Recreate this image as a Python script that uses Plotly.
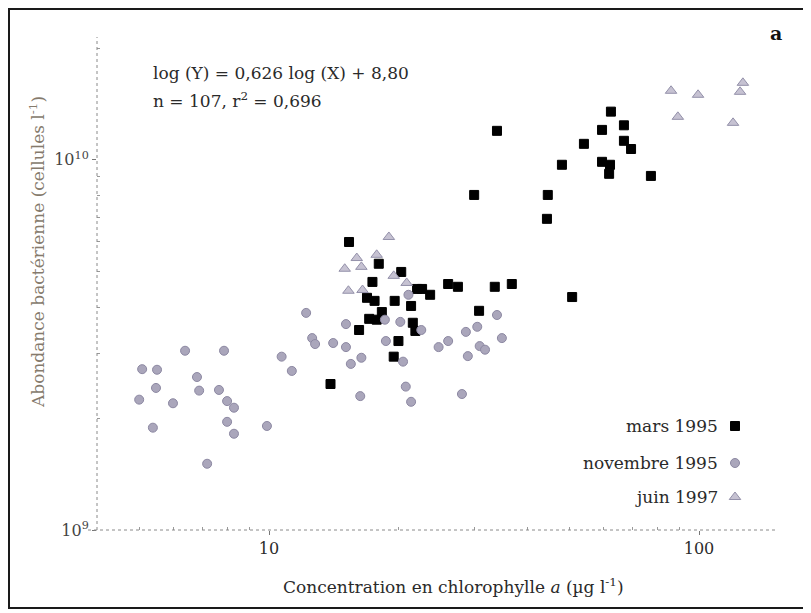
import plotly.graph_objects as go

# ---- data (chlorophyll a in µg/l, bacterial abundance in 10^9 cells/l) ----
mars_chl = [15.35, 18.0, 20.3, 17.4, 22.1, 22.7, 23.7, 26.1, 27.5, 33.5, 36.7,
            16.9, 17.6, 19.6, 21.4, 18.3, 17.1, 17.8, 21.6, 21.9, 16.2, 30.8,
            20.0, 19.5, 13.9, 50.7, 33.9, 62.4, 59.5, 66.9, 54.0, 66.9, 69.5,
            48.0, 59.5, 62.1, 61.8, 77.3, 30.0, 44.5, 44.3]
mars_bact = [6.0, 5.24, 4.98, 4.68, 4.48, 4.48, 4.32, 4.62, 4.54, 4.54, 4.62,
             4.24, 4.16, 4.16, 4.03, 3.88, 3.72, 3.70, 3.63, 3.45, 3.47, 3.91,
             3.24, 2.94, 2.48, 4.26, 11.98, 13.5, 12.05, 12.4, 11.05, 11.26, 10.7,
             9.70, 9.88, 9.70, 9.17, 9.05, 8.04, 8.04, 6.93]

nov_chl = [12.2, 15.1, 12.6, 12.8, 14.1, 15.1, 18.7, 20.2, 18.6, 22.6, 16.4,
           15.5, 20.5, 16.3, 20.8, 21.4, 28.1, 29.0, 24.8, 26.1, 28.7, 30.5,
           30.9, 31.8, 33.9, 34.8, 10.7, 11.3, 6.38, 7.86, 5.07, 5.49, 6.80,
           5.46, 6.88, 7.65, 4.99, 5.98, 7.99, 8.29, 5.37, 7.99, 8.29, 9.89,
           7.18, 21.1]
nov_bact = [3.86, 3.60, 3.30, 3.18, 3.20, 3.12, 3.24, 3.65, 3.70, 3.47, 2.92,
            2.81, 2.85, 2.30, 2.44, 2.22, 2.33, 2.95, 3.12, 3.24, 3.43, 3.54,
            3.14, 3.07, 3.81, 3.30, 2.94, 2.69, 3.05, 3.05, 2.72, 2.71, 2.59,
            2.42, 2.38, 2.39, 2.25, 2.20, 2.23, 2.14, 1.89, 1.96, 1.82, 1.91,
            1.51, 4.32]

juin_chl = [19.0, 16.0, 17.8, 15.0, 16.4, 19.5, 15.3, 16.5, 20.9,
            86.1, 99.5, 126.5, 124.6, 89.3, 120.0]
juin_bact = [6.19, 5.43, 5.54, 5.08, 5.14, 4.86, 4.43, 4.45, 4.65,
             15.37, 14.99, 16.15, 15.27, 13.07, 12.59]

UNIT = 1e9

series_names = ["mars 1995", "novembre 1995", "juin 1997"]
x_tickvals = [10, 100]
x_ticktext = ["10", "100"]
y_tickvals = [1e9, 1e10]
y_ticktext = ["10<sup>9</sup>", "10<sup>10</sup>"]

eq_line1 = "log (Y) = 0,626 log (X) + 8,80"
eq_line2 = "n = 107, r<sup>2</sup> = 0,696"

# ---- layout geometry (pixels, in page coordinates of the reference) ----
PAGE_W, PAGE_H = 811, 613
OFF = 8  # default page body margin
W, H = PAGE_W - OFF, PAGE_H - OFF
L, R, T, B = 97, 777, 37, 530
SERIF = "DejaVu Serif, Liberation Serif, serif"
FS = 17


def px(xp):
    return (xp - L) / (R - L)


def py(yp):
    return (B - yp) / (B - T)


styles = [
    dict(symbol="square", size=9, color="#000000", line=dict(color="#000000", width=1)),
    dict(symbol="circle", size=9, color="#aaa6bb", line=dict(color="#8c88a2", width=1)),
    dict(symbol="triangle-up", size=10, color="#c6c2d2", line=dict(color="#9491aa", width=1)),
]

fig = go.Figure()
data_sets = [(mars_chl, mars_bact), (nov_chl, nov_bact), (juin_chl, juin_bact)]
for (xs, ys), name, st in zip(data_sets, series_names, styles):
    fig.add_trace(go.Scatter(
        x=xs, y=[v * UNIT for v in ys], mode="markers", name=name,
        marker=st, showlegend=False, xaxis="x", yaxis="y"))

# legend drawn on an overlay axis (markers right of text, as in reference)
leg_y_px = [426, 463, 497]
leg_x_px = 735
for name, st, yp in zip(series_names, styles, leg_y_px):
    fig.add_trace(go.Scatter(
        x=[px(leg_x_px)], y=[py(yp)], mode="markers", marker=st,
        showlegend=False, hoverinfo="skip", xaxis="x2", yaxis="y2"))

TXT = "#2a2a2a"
annotations = []
for name, yp in zip(series_names, leg_y_px):
    annotations.append(dict(
        x=px(720), y=py(yp), xref="paper", yref="paper", text=name,
        showarrow=False, xanchor="right", yanchor="middle",
        font=dict(family=SERIF, size=FS, color=TXT)))

annotations += [
    dict(x=px(151), y=py(73), xref="paper", yref="paper", text=eq_line1,
         showarrow=False, xanchor="left", yanchor="middle",
         font=dict(family=SERIF, size=FS, color=TXT)),
    dict(x=px(151), y=py(100), xref="paper", yref="paper", text=eq_line2,
         showarrow=False, xanchor="left", yanchor="middle",
         font=dict(family=SERIF, size=FS, color=TXT)),
    dict(x=px(776), y=py(33), xref="paper", yref="paper", text="<b>a</b>",
         showarrow=False, xanchor="center", yanchor="middle",
         font=dict(family=SERIF, size=19, color="#111111")),
    dict(x=px(453), y=py(586), xref="paper", yref="paper",
         text="Concentration en chlorophylle <i>a</i> (µg l<sup>-1</sup>)",
         showarrow=False, xanchor="center", yanchor="middle",
         font=dict(family=SERIF, size=FS, color=TXT)),
    dict(x=px(37), y=py(252), xref="paper", yref="paper",
         text="Abondance bactérienne (cellules l<sup>-1</sup>)", textangle=-90,
         showarrow=False, xanchor="center", yanchor="middle",
         font=dict(family=SERIF, size=FS, color="#857a6c")),
]

shapes = [
    # dotted axis lines
    dict(type="line", xref="paper", yref="paper", x0=px(88), x1=px(777), y0=0, y1=0,
         line=dict(color="#8a8a8a", width=1, dash="dot")),
    dict(type="line", xref="paper", yref="paper", x0=0, x1=0, y0=0, y1=1,
         line=dict(color="#8a8a8a", width=1, dash="dot")),
    # outer frame
    dict(type="rect", xref="paper", yref="paper", x0=px(9), x1=px(830), y0=py(608), y1=py(9),
         line=dict(color="#1a1a1a", width=2), layer="below"),
]

fig.update_layout(
    width=W, height=H,
    margin=dict(l=L - OFF, r=PAGE_W - R, t=T - OFF, b=PAGE_H - B, pad=0),
    paper_bgcolor="white", plot_bgcolor="white",
    showlegend=False,
    font=dict(family=SERIF, size=FS, color=TXT),
    xaxis=dict(type="log", range=[0.6, 2.1814], showgrid=False, zeroline=False,
               showline=False, tickvals=x_tickvals, ticktext=x_ticktext,
               ticks="outside", ticklen=4, tickcolor="#777",
               tickfont=dict(family=SERIF, size=16, color=TXT),
               minor=dict(tickvals=[5, 6, 7, 8, 9, 20, 30, 40, 50, 60, 70, 80, 90],
                          ticks="inside", ticklen=3, tickcolor="#999")),
    yaxis=dict(type="log", range=[9, 10.332], showgrid=False, zeroline=False,
               showline=False, tickvals=y_tickvals, ticktext=y_ticktext,
               ticks="outside", ticklen=4, tickcolor="#777",
               tickfont=dict(family=SERIF, size=16, color="#444"),
               minor=dict(tickvals=[2e9, 3e9, 4e9, 5e9, 6e9, 7e9, 8e9, 9e9, 2e10],
                          ticks="inside", ticklen=3, tickcolor="#999")),
    xaxis2=dict(range=[0, 1], overlaying="x", visible=False, fixedrange=True),
    yaxis2=dict(range=[0, 1], overlaying="y", visible=False, fixedrange=True),
    annotations=annotations,
    shapes=shapes,
)

fig.write_html("out.html")
